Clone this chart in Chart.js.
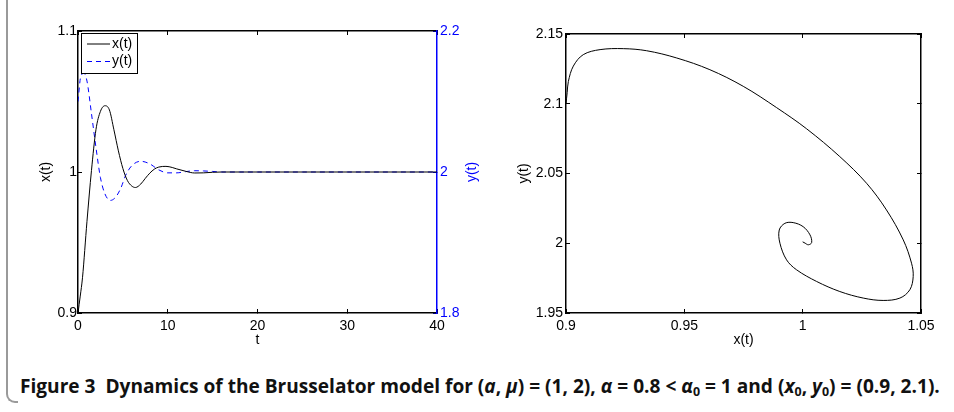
<!DOCTYPE html>
<html>
<head>
<meta charset="utf-8">
<script src="https://cdn.jsdelivr.net/npm/chart.js@4.4.1/dist/chart.umd.min.js"></script>
<style>
  html, body { margin: 0; padding: 0; background: #fff; }
  body { width: 954px; height: 412px; position: relative; overflow: hidden; }
  #frame { position: absolute; left: 6px; top: -20px; width: 10px; height: 421px;
           border-left: 2px solid #9a9a9a; border-bottom: 2px solid #9a9a9a;
           border-bottom-left-radius: 9px; }
  #left { position: absolute; left: 0; top: 0; }
  #right { position: absolute; left: 500px; top: 0; }
  #cap { position: absolute; left: 20px; top: 374px; white-space: nowrap;
         font-family: "Open Sans", "Liberation Sans", sans-serif; font-weight: bold;
         font-size: 20px; line-height: 24px; color: #111; transform-origin: 0 0; }
  #cap sub { font-size: 13px; vertical-align: -3px; line-height: 0; }
</style>
</head>
<body>
<div id="frame"></div>
<canvas id="left" width="500" height="360"></canvas>
<canvas id="right" width="454" height="360"></canvas>
<div id="cap">Figure 3&nbsp;&nbsp;Dynamics of the Brusselator model for (<i>a</i>, <i>μ</i>) = (1, 2), <i>α</i> = 0.8 &lt; <i>α</i><sub>0</sub> = 1 and (<i>x</i><sub>0</sub>, <i>y</i><sub>0</sub>) = (0.9, 2.1).</div>
<script>
// time series
const xT = [0, 0.25, 0.5, 1.0, 1.5, 2.0, 2.5, 3.0, 3.5, 4.0, 4.5, 5.0, 5.5, 6.0, 6.4, 7.0, 7.5, 8.0, 8.5, 9.0, 9.8, 10.5, 11, 12, 13, 14, 15, 16, 18, 20, 25, 30, 35, 40];
const xV = [0.900, 0.912, 0.925, 0.965, 1.001, 1.030, 1.043, 1.047, 1.044, 1.030, 1.015, 1.0025, 0.994, 0.990, 0.989, 0.9915, 0.9955, 0.9992, 1.002, 1.0035, 1.004, 1.0032, 1.0022, 1.0005, 0.9993, 0.9994, 0.9998, 1.0, 1.0, 1.0, 1.0, 1.0, 1.0, 1.0];
const yT = [0, 0.3, 0.67, 1.0, 1.5, 2.0, 2.5, 3.0, 3.6, 4.2, 4.8, 5.3, 6.0, 7.0, 8.0, 9.0, 10.0, 11.0, 12, 13, 14, 15, 16, 18, 20, 25, 30, 35, 40];
const yV = [2.100, 2.135, 2.140, 2.129, 2.083, 2.035, 1.992, 1.969, 1.9597, 1.9644, 1.978, 1.995, 2.009, 2.0152, 2.0115, 2.003, 1.9988, 1.9988, 2.0005, 2.0018, 2.0015, 2.0008, 2.0, 2.0, 2.0, 2.0, 2.0, 2.0, 2.0];

// phase portrait
const phaseX = [0.900, 0.9005, 0.901, 0.9031, 0.9073, 0.9144, 0.9242, 0.9341, 0.9468, 0.9608, 0.9749, 0.989, 1.0017, 1.0157, 1.027, 1.0354, 1.0425, 1.046, 1.0467, 1.0453, 1.0411, 1.034, 1.0256, 1.0157, 1.0059, 0.9974, 0.9932, 0.9904, 0.9901, 0.9925, 0.996, 1.0002, 1.0031, 1.0038, 1.0024, 1.001, 1.0];
const phaseY = [2.100, 2.108, 2.116, 2.127, 2.1352, 2.1388, 2.1395, 2.138, 2.1328, 2.1244, 2.1125, 2.0972, 2.082, 2.0621, 2.043, 2.0239, 2.0024, 1.9857, 1.9761, 1.9667, 1.9607, 1.959, 1.9607, 1.9654, 1.9726, 1.981, 1.9881, 2.0, 2.0095, 2.0143, 2.0148, 2.0119, 2.006, 2.0005, 1.9989, 2.0001, 2.001];

const tTicks = [0, 40, 10];
const BLUE = "#0000ff";

Chart.defaults.font.family = "'Liberation Sans', Arial, sans-serif";
Chart.defaults.font.size = 14;
Chart.defaults.color = "#000";

const fmt = v => String(parseFloat(v.toFixed(4)));

function axis(pos, min, max, step, o) {
  o = o || {};
  const col = o.color || "#000";
  return {
    type: "linear",
    position: pos,
    min: min,
    max: max,
    afterFit: s => { if (pos === "top" || pos === "bottom") s.height = o.size; else s.width = o.size; },
    afterBuildTicks: s => { s.ticks = s.ticks.filter(t => Math.abs(((t.value - min) / step) - Math.round((t.value - min) / step)) < 1e-6); },
    ticks: { display: !!o.labels, stepSize: step, color: col, padding: o.pad || 6, callback: fmt, maxRotation: 0, autoSkip: false },
    grid: { drawOnChartArea: false, drawTicks: true, tickLength: -4, color: col, lineWidth: 1 },
    border: { display: true, color: col, width: 1.5 },
    title: o.title ? { display: !o.upright, text: o.title, color: col, padding: o.tpad } : { display: false }
  };
}

// MATLAB writes the right-hand ylabel bottom-to-top too
const rightTitle = {
  id: "rightTitle",
  afterDraw(chart) {
    const s = chart.scales.y2;
    const t = s.options.title;
    const { ctx } = chart;
    ctx.save();
    ctx.translate(s.right - 28, (s.top + s.bottom) / 2);
    ctx.rotate(-Math.PI / 2);
    ctx.font = "14px 'Liberation Sans', Arial, sans-serif";
    ctx.fillStyle = t.color;
    ctx.textAlign = "center";
    ctx.textBaseline = "middle";
    ctx.fillText(t.text, 0, 0);
    ctx.restore();
  }
};

const boxLegend = {
  id: "boxLegend",
  afterDatasetsDraw(chart) {
    const { ctx, chartArea } = chart;
    const x0 = chartArea.left + 3, y0 = chartArea.top + 2;
    ctx.save();
    ctx.fillStyle = "#fff";
    ctx.fillRect(x0, y0, 56, 40);
    ctx.strokeStyle = "#000";
    ctx.lineWidth = 1;
    ctx.strokeRect(x0 + 0.5, y0 + 0.5, 56, 40);
    ctx.font = "14px 'Liberation Sans', Arial, sans-serif";
    ctx.textBaseline = "middle";
    chart.data.datasets.forEach((ds, i) => {
      const y = y0 + 11 + i * 17.5;
      ctx.strokeStyle = ds.borderColor;
      ctx.setLineDash(ds.borderDash || []);
      ctx.beginPath();
      ctx.moveTo(x0 + 6, y);
      ctx.lineTo(x0 + 29, y);
      ctx.stroke();
      ctx.fillStyle = "#000";
      ctx.fillText(ds.label, x0 + 31, y);
    });
    ctx.restore();
  }
};

new Chart(document.getElementById("left"), {
  type: "line",
  data: {
    datasets: [
      {
        label: "x(t)",
        data: xT.map((t, i) => ({ x: t, y: xV[i] })),
        borderColor: "#000",
        borderWidth: 1,
        pointRadius: 0,
        yAxisID: "y",
        xAxisID: "x",
        cubicInterpolationMode: "monotone",
      },
      {
        label: "y(t)",
        data: yT.map((t, i) => ({ x: t, y: yV[i] })),
        borderColor: BLUE,
        borderWidth: 1,
        borderDash: [5, 4],
        pointRadius: 0,
        yAxisID: "y2",
        xAxisID: "x",
        cubicInterpolationMode: "monotone",
      },
    ],
  },
  options: {
    responsive: false,
    animation: false,
    layout: { padding: { top: 31, left: 0, right: 0, bottom: 0 } },
    plugins: { legend: { display: false }, tooltip: { enabled: false } },
    scales: {
      x: axis("bottom", tTicks[0], tTicks[1], tTicks[2], { size: 47, labels: true, pad: 9, title: "t", tpad: { bottom: 11 } }),
      xTop: axis("top", tTicks[0], tTicks[1], tTicks[2], { size: 0 }),
      y: axis("left", 0.9, 1.1, 0.1, { size: 78, labels: true, pad: 5, title: "x(t)", tpad: { top: 38 } }),
      y2: axis("right", 1.8, 2.2, 0.2, { size: 63, labels: true, pad: 7, color: BLUE, title: "y(t)", upright: true }),
    },
  },
  plugins: [boxLegend, rightTitle],
});

new Chart(document.getElementById("right"), {
  type: "scatter",
  data: {
    datasets: [
      {
        label: "phase",
        data: phaseX.map((x, i) => ({ x: x, y: phaseY[i] })),
        borderColor: "#000",
        borderWidth: 1,
        pointRadius: 0,
        showLine: true,
        tension: 0.35,
        xAxisID: "x",
        yAxisID: "y",
      },
    ],
  },
  options: {
    responsive: false,
    animation: false,
    layout: { padding: { top: 34, left: 0, right: 0, bottom: 0 } },
    plugins: { legend: { display: false }, tooltip: { enabled: false } },
    scales: {
      x: axis("bottom", 0.9, 1.05, 0.05, { size: 47, labels: true, pad: 9, title: "x(t)", tpad: { bottom: 11 } }),
      xTop: axis("top", 0.9, 1.05, 0.05, { size: 0 }),
      y: axis("left", 1.95, 2.15, 0.05, { size: 66, labels: true, pad: 7, title: "y(t)", tpad: { top: 16 } }),
      yRight: axis("right", 1.95, 2.15, 0.05, { size: 33 }),
    },
  },
});

// squeeze the caption to the width it takes in the figure
const cap = document.getElementById("cap");
cap.style.transform = "scaleX(" + (920 / cap.scrollWidth) + ")";
</script>
</body>
</html>
